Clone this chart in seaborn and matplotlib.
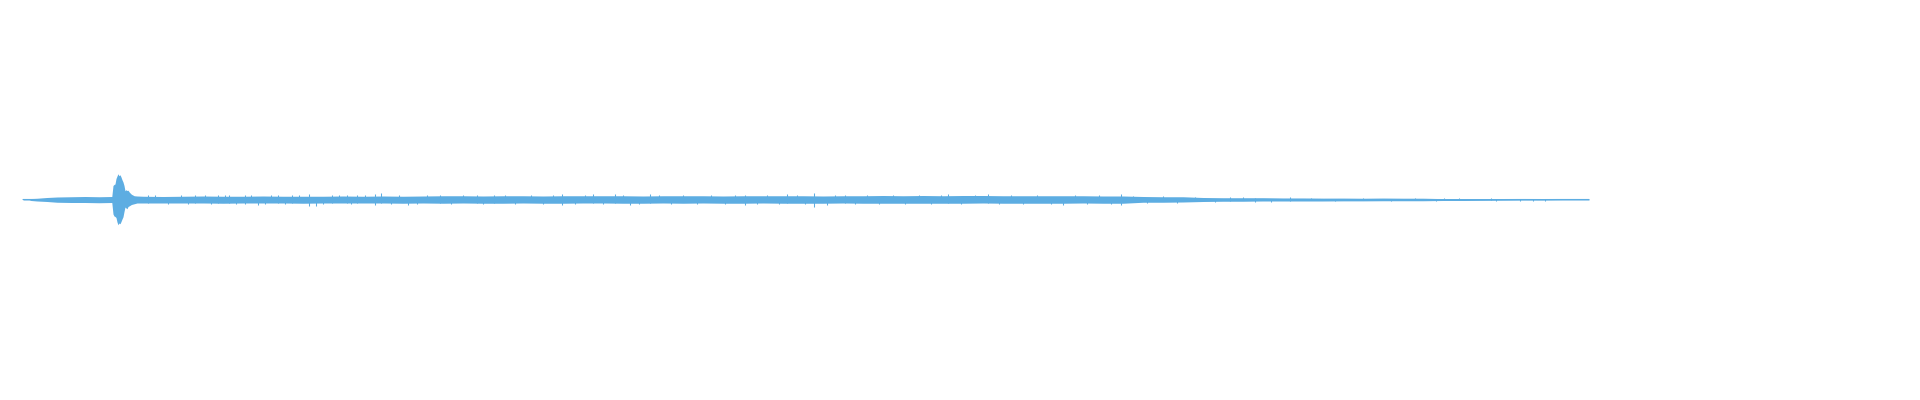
import numpy as np
import pandas as pd
import seaborn as sns
import matplotlib.pyplot as plt

sns.set_theme(style='white')

wave_color = '#5DADE2'

# envelope of the recording: time (s), upper and lower amplitude
env_t = [0.00, 0.15, 0.20, 0.35, 0.60, 0.85, 1.20, 1.55, 1.90, 2.22,
         2.25, 2.275, 2.30, 2.325, 2.35, 2.375, 2.40, 2.425, 2.45, 2.475,
         2.50, 2.525, 2.55, 2.575, 2.60, 2.625, 2.66, 2.71, 2.78, 2.85,
         3.0, 3.5, 4.0, 4.5, 5.0, 5.5, 6.0, 6.5, 7.0, 7.5, 8.0, 8.5, 9.0, 9.5, 10.0,
         10.5, 11.0, 11.5, 12.0, 12.5, 13.0, 13.5, 14.0, 14.5, 15.0,
         15.5, 16.0, 16.5, 17.0, 17.5, 18.0, 18.5, 19.0, 19.5, 20.0,
         20.5, 21.0, 21.5, 22.0, 22.5, 23.0, 23.5, 24.0, 24.5, 25.0,
         25.5, 26.0, 26.5, 27.0, 27.5,
         28.0, 28.5, 29.0,
         29.5, 30.0, 30.5, 31.0, 31.5,
         32.0, 32.5, 33.0, 33.5, 34.0, 34.5, 35.0,
         35.5, 36.0, 36.5,
         37.0, 37.5, 38.0,
         38.5, 39.0, 39.15]
env_hi = [0.02, 0.02, 0.04, 0.05, 0.08, 0.10, 0.11, 0.12, 0.11, 0.12,
          0.56, 0.60, 0.62, 0.84, 0.94, 1.03, 0.95, 0.99, 0.90, 0.79,
          0.70, 0.56, 0.35, 0.39, 0.36, 0.37, 0.29, 0.21, 0.15, 0.14,
          0.13, 0.12, 0.13, 0.14, 0.13, 0.13, 0.14, 0.13, 0.13, 0.13, 0.14, 0.13, 0.14, 0.13, 0.14,
          0.15, 0.15, 0.14, 0.15, 0.15, 0.14, 0.15, 0.15, 0.15, 0.15,
          0.14, 0.15, 0.15, 0.15, 0.14, 0.15, 0.15, 0.15, 0.15, 0.14,
          0.15, 0.15, 0.16, 0.15, 0.16, 0.15, 0.16, 0.16, 0.15, 0.15,
          0.15, 0.15, 0.15, 0.14, 0.14,
          0.12, 0.11, 0.11,
          0.08, 0.07, 0.07, 0.07, 0.06,
          0.06, 0.055, 0.055, 0.05, 0.055, 0.05, 0.05,
          0.035, 0.035, 0.03,
          0.025, 0.025, 0.02,
          0.02, 0.02, 0.02]
env_lo = [0.02, 0.02, 0.04, 0.06, 0.08, 0.11, 0.12, 0.12, 0.13, 0.12,
          0.58, 0.66, 0.68, 0.72, 0.90, 1.01, 0.94, 0.97, 0.88, 0.78,
          0.69, 0.48, 0.30, 0.34, 0.37, 0.28, 0.25, 0.20, 0.17, 0.14,
          0.14, 0.14, 0.14, 0.14, 0.15, 0.14, 0.14, 0.14, 0.15, 0.14, 0.14, 0.14, 0.14, 0.15, 0.14,
          0.15, 0.14, 0.15, 0.15, 0.14, 0.15, 0.15, 0.14, 0.14, 0.15,
          0.15, 0.14, 0.15, 0.14, 0.15, 0.15, 0.14, 0.15, 0.15, 0.15,
          0.14, 0.15, 0.15, 0.15, 0.15, 0.15, 0.15, 0.14, 0.15, 0.15,
          0.15, 0.15, 0.14, 0.15, 0.15,
          0.11, 0.11, 0.10,
          0.08, 0.07, 0.07, 0.06, 0.06,
          0.06, 0.06, 0.055, 0.055, 0.05, 0.05, 0.05,
          0.04, 0.04, 0.035,
          0.03, 0.025, 0.025,
          0.02, 0.02, 0.02]

# larger single peaks that stick out of the band
spike_t = [3.125, 4.30, 4.875, 5.15, 5.55, 5.875, 6.375, 6.725, 7.15, 7.325,
           7.725, 8.10, 8.35, 8.80, 8.95, 9.625, 10.425, 11.35, 11.775, 13.475,
           14.25, 14.80, 15.175, 15.675, 18.05, 19.10, 19.775, 20.10, 20.55, 23.125,
           24.125, 26.0, 27.45, 30.175, 30.80, 31.675, 35.325, 35.525, 35.90, 36.70,
           36.825, 37.425, 37.75, 38.05]
spike_hi = [0.17, 0.20, 0.20, 0.20, 0.20, 0.12, 0.20, 0.20, 0.24, 0.12,
            0.20, 0.20, 0.20, 0.22, 0.26, 0.12, 0.20, 0.20, 0.20, 0.22,
            0.24, 0.22, 0.12, 0.22, 0.20, 0.24, 0.27, 0.12, 0.20, 0.24,
            0.24, 0.12, 0.24, 0.11, 0.06, 0.10, 0.03, 0.06, 0.05, 0.05,
            0.02, 0.02, 0.02, 0.02]
spike_lo = [0.14, 0.12, 0.12, 0.12, 0.18, 0.20, 0.12, 0.12, 0.24, 0.25,
            0.12, 0.12, 0.12, 0.20, 0.12, 0.20, 0.12, 0.12, 0.12, 0.20,
            0.12, 0.12, 0.20, 0.12, 0.22, 0.12, 0.28, 0.20, 0.12, 0.12,
            0.12, 0.20, 0.20, 0.06, 0.10, 0.06, 0.06, 0.03, 0.03, 0.03,
            0.06, 0.05, 0.05, 0.05]

# small ripples along the edges of the band (signed: up / down)
ripple_t = [3.30, 3.62, 3.95, 4.12, 4.55, 4.70, 5.05, 5.32, 5.70, 6.05,
            6.20, 6.55, 6.90, 7.50, 7.90, 8.20, 8.55, 9.20, 9.40, 9.85,
            10.10, 10.70, 11.00, 11.50, 12.05, 12.30, 12.70, 13.00, 13.25, 13.80,
            14.05, 14.50, 15.00, 15.40, 15.90, 16.20, 16.50, 16.85, 17.20, 17.55,
            17.80, 18.35, 18.60, 18.90, 19.35, 19.55, 20.30, 20.80, 21.10, 21.40,
            21.75, 22.05, 22.40, 22.70, 22.95, 23.45, 23.80, 24.40, 24.70, 25.00,
            25.35, 25.70, 26.30, 26.60, 26.90, 27.20, 27.75, 28.10, 28.50, 28.85,
            29.30, 29.80, 30.50, 31.20, 32.20, 32.80, 33.50, 34.20, 34.80]
ripple_amp = [0.18, -0.19, 0.18, -0.18, 0.19, -0.18, 0.18, -0.19, 0.18, -0.18,
              0.19, -0.18, 0.18, -0.19, 0.18, -0.18, 0.18, -0.19, 0.19, -0.18,
              0.18, -0.18, 0.19, -0.19, 0.18, -0.18, 0.19, -0.18, 0.18, -0.19,
              0.19, -0.18, 0.18, -0.19, 0.18, -0.18, 0.19, -0.18, 0.19, -0.19,
              0.18, -0.18, 0.19, -0.19, 0.18, -0.18, 0.19, -0.19, 0.18, -0.18,
              0.19, -0.19, 0.18, -0.18, 0.19, -0.19, 0.19, -0.18, 0.19, -0.19,
              0.18, -0.18, 0.18, -0.18, 0.18, -0.18, 0.15, -0.15, 0.14, -0.14,
              0.11, -0.09, 0.09, -0.09, 0.08, -0.07, 0.07, -0.07, 0.07]

wave = pd.DataFrame({'t': env_t + env_t,
                     'amp': env_hi + [-v for v in env_lo]})

fig = plt.figure(figsize=(19.2, 4), dpi=100)
ax = fig.add_axes([0, 0, 1, 1])

# band between the upper and lower envelope, thin trace through the middle
sns.lineplot(data=wave, x='t', y='amp', estimator='mean', errorbar=('pi', 100),
             err_kws={'alpha': 1, 'linewidth': 0}, color=wave_color,
             linewidth=0.8, ax=ax)
ax.vlines(spike_t, [-v for v in spike_lo], spike_hi, color=wave_color, linewidth=0.75)
ax.vlines(ripple_t, 0, ripple_amp, color=wave_color, linewidth=0.75)

ax.set_xlim(-0.575, 47.425)
ax.set_ylim(-8.02, 7.98)
ax.axis('off')

fig.savefig('out.png', dpi=100)
